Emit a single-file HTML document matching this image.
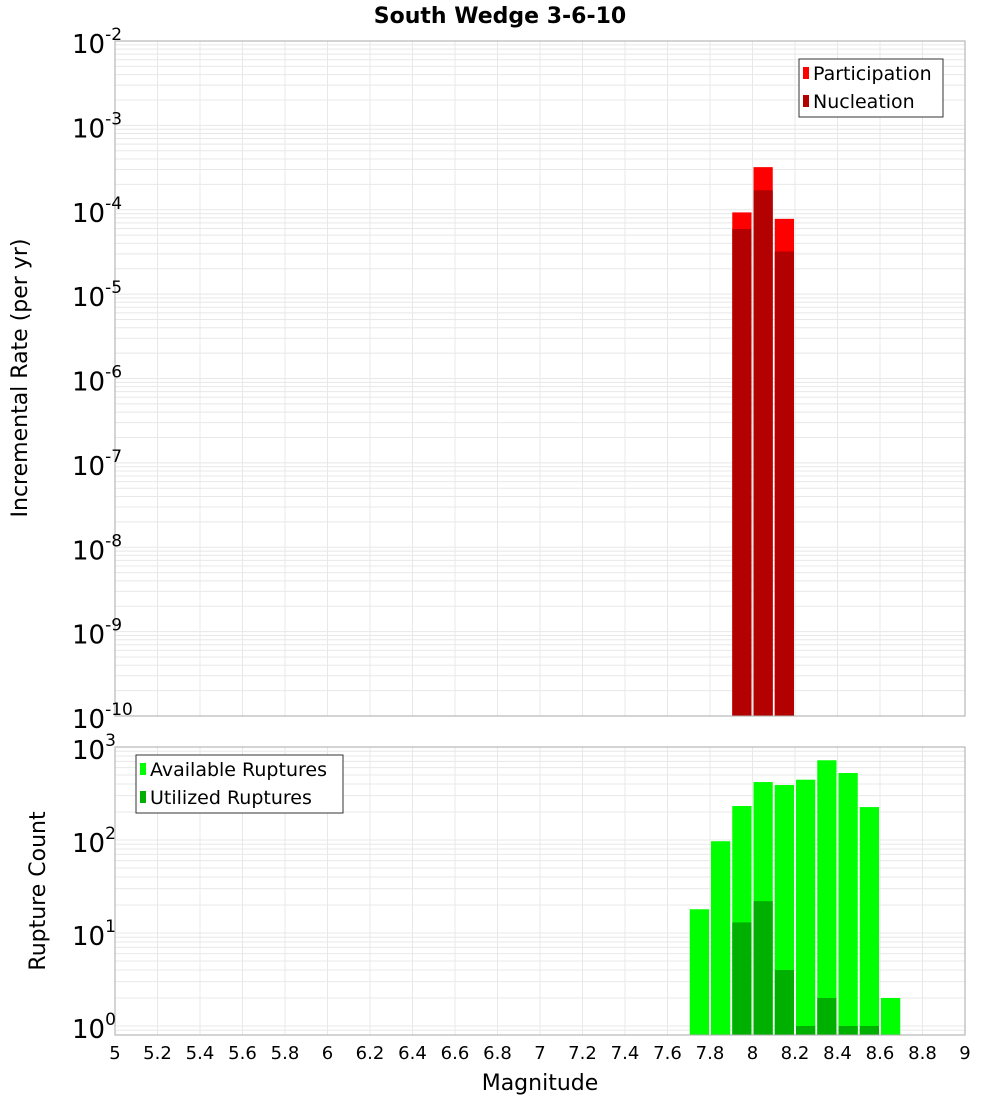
<!DOCTYPE html>
<html><head><meta charset="utf-8"><style>
body{margin:0;background:#fff;font-family:"Liberation Sans","DejaVu Sans",sans-serif;}
</style></head><body>
<svg id="chart" width="1000" height="1100" xmlns="http://www.w3.org/2000/svg" font-family="DejaVu Sans, Liberation Sans, sans-serif">
<text x="500" y="23" text-anchor="middle" font-size="22" font-weight="bold">South Wedge 3-6-10</text>
<g id="top"></g><g id="bot"></g>
<text transform="translate(27,378) rotate(-90)" text-anchor="middle" font-size="22">Incremental Rate (per yr)</text>
<text transform="translate(45,891) rotate(-90)" text-anchor="middle" font-size="22">Rupture Count</text>
<text x="540" y="1090" text-anchor="middle" font-size="22">Magnitude</text>
</svg>
<script>
const magBins=[7.9,8.0,8.1];
const participation=[9.3e-5,3.2e-4,7.8e-5];
const nucleation=[5.9e-5,1.7e-4,3.2e-5];
const countBins=[7.7,7.8,7.9,8.0,8.1,8.2,8.3,8.4,8.5,8.6];
const available=[18,97,232,420,390,445,720,525,226,2];
const utilized=[0,0,13,22,4,1,2,1,1,0];
const xTicks=["5","5.2","5.4","5.6","5.8","6","6.2","6.4","6.6","6.8","7","7.2","7.4","7.6","7.8","8","8.2","8.4","8.6","8.8","9"];

const NS="http://www.w3.org/2000/svg";
const L=115,R=965;
function X(m){return L+(m-5)/4*(R-L);}
function mk(p,tag,a,txt){const e=document.createElementNS(NS,tag);for(const k in a)e.setAttribute(k,a[k]);if(txt!==undefined)e.textContent=txt;p.appendChild(e);return e;}
function panel(g,top,bot,lmin,lmax,yOf,name){
  // grid
  for(let d=Math.floor(lmin);d<lmax;d++){for(let k=1;k<10;k++){const v=d+Math.log10(k);if(v<lmin||v>lmax)continue;const y=yOf(v);
    const ln=mk(g,'line',{x1:L,x2:R,y1:y,y2:y,stroke:'#e8e8e8','stroke-width':1});
    }}
  for(let i=0;i<xTicks.length;i++){const x=X(parseFloat(xTicks[i]));
    const ln=mk(g,'line',{x1:x,x2:x,y1:top,y2:bot,stroke:'#e8e8e8','stroke-width':1});
    }
}
// top
const gt=document.getElementById('top');
const T0=41,T1=716;
function YT(l){return T0+(-2-l)/8*(T1-T0);}
panel(gt,T0,T1,-10,-2,YT,'top');
for(let i=0;i<magBins.length;i++){
  const x0=X(magBins[i])+1,x1=X(magBins[i]+0.1)-1;
  const p=mk(gt,'rect',{x:x0,y:YT(Math.log10(participation[i])),width:x1-x0,height:T1-YT(Math.log10(participation[i])),fill:'#ff0000'});
  
  const n=mk(gt,'rect',{x:x0,y:YT(Math.log10(nucleation[i])),width:x1-x0,height:T1-YT(Math.log10(nucleation[i])),fill:'#b30000'});
  
}
let b=mk(gt,'rect',{x:L,y:T0,width:R-L,height:T1-T0,fill:'none',stroke:'#aaa'});

for(let d=-10;d<=-2;d++){const y=YT(d);
  const t=mk(gt,'text',{x:72,y:y+12,'font-size':26});
  
  t.textContent='10';mk(t,'tspan',{dy:-13,'font-size':17},String(d));}
// legend top
const lg=mk(gt,'g',{});
mk(lg,'rect',{x:799,y:59,width:144,height:58,fill:'#fff',stroke:'#333'});
mk(lg,'rect',{x:803,y:67,width:6,height:12,fill:'#ff0000'});
mk(lg,'text',{x:813,y:80,'font-size':19},'Participation');
mk(lg,'rect',{x:803,y:95,width:6,height:12,fill:'#b30000'});
mk(lg,'text',{x:813,y:108,'font-size':19},'Nucleation');
// bottom
const gb=document.getElementById('bot');
const B0=747,B1=1035;
function YB(l){return 1026-l*93;}
panel(gb,B0,B1,-0.09,3,YB,'bottom');
for(let i=0;i<countBins.length;i++){
  const x0=X(countBins[i])+1,x1=X(countBins[i]+0.1)-1;
  const a=mk(gb,'rect',{x:x0,y:YB(Math.log10(available[i])),width:x1-x0,height:B1-YB(Math.log10(available[i])),fill:'#00ff00'});
  
  if(utilized[i]>0){const u=mk(gb,'rect',{x:x0,y:YB(Math.log10(utilized[i])),width:x1-x0,height:B1-YB(Math.log10(utilized[i])),fill:'#00b000'});
  }
}
b=mk(gb,'rect',{x:L,y:B0,width:R-L,height:B1-B0,fill:'none',stroke:'#aaa'});

for(let d=0;d<=3;d++){const y=YB(d);
  const t=mk(gb,'text',{x:72,y:y+12,'font-size':26});
  
  t.textContent='10';mk(t,'tspan',{dy:-13,'font-size':17},String(d));}
for(let i=0;i<xTicks.length;i++){
  const t=mk(gb,'text',{x:X(parseFloat(xTicks[i])),y:1059,'font-size':18,'text-anchor':'middle'},xTicks[i]);
  }
const lb=mk(gb,'g',{});
mk(lb,'rect',{x:136,y:755,width:207,height:58,fill:'#fff',stroke:'#333'});
mk(lb,'rect',{x:140,y:763,width:6,height:12,fill:'#00ff00'});
mk(lb,'text',{x:150,y:776,'font-size':19},'Available Ruptures');
mk(lb,'rect',{x:140,y:791,width:6,height:12,fill:'#00b000'});
mk(lb,'text',{x:150,y:804,'font-size':19},'Utilized Ruptures');
</script>
</body></html>
